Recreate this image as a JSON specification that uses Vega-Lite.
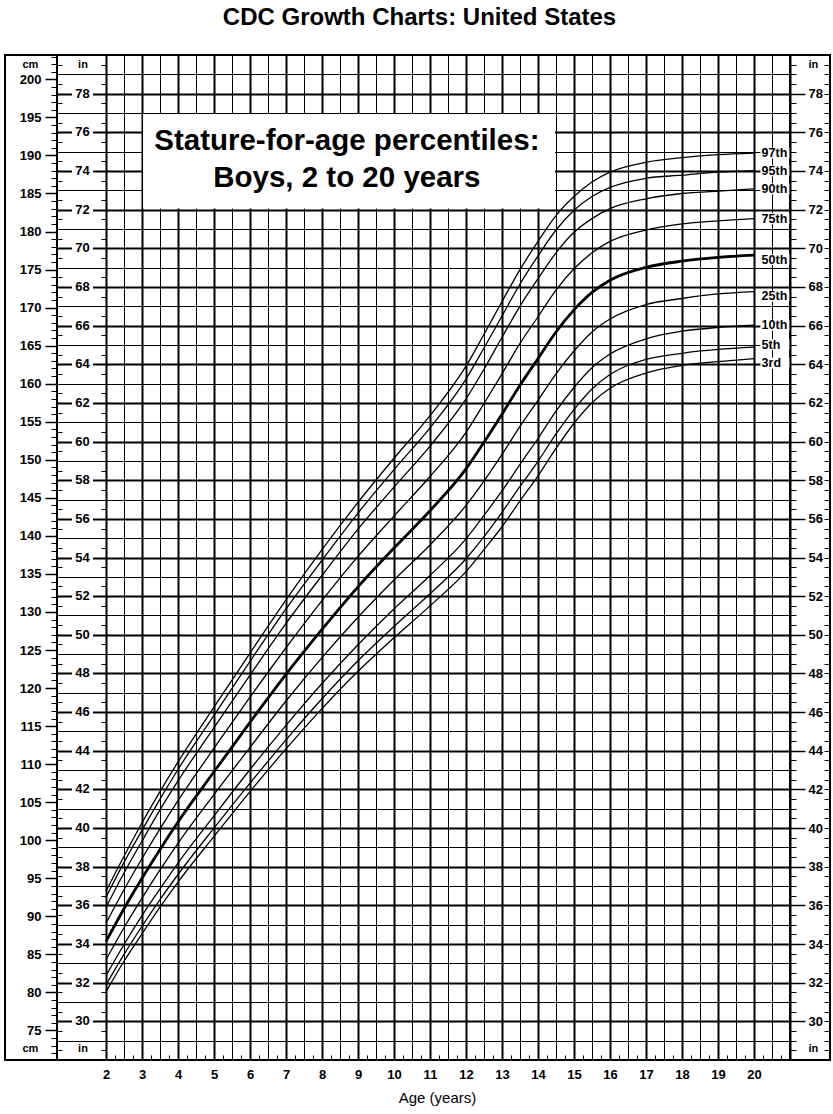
{
  "$schema": "https://vega.github.io/schema/vega-lite/v6.json",
  "autosize": {"type": "none"},
  "padding": {"left": 57, "top": 55, "right": 43, "bottom": 54},
  "width": 733,
  "height": 1005,
  "background": "white",
  "config": {
    "view": {"stroke": "#000", "strokeWidth": 2},
    "font": "Liberation Sans",
    "axis": {"labelFlush": false, "labelOverlap": false, "tickColor": "#000", "labelColor": "#000", "titleColor": "#000"}
  },
  "title": {"text": "CDC Growth Charts: United States", "font": "Liberation Sans", "fontSize": 24, "fontWeight": "bold", "color": "#000", "anchor": "middle", "frame": "group", "offset": 5, "baseline": "alphabetic", "dx": -4},
  "datasets": {
    "curves": [
      {"age": 2, "3rd": 80.1, "5th": 81.0, "10th": 82.2, "25th": 84.3, "50th": 86.7, "75th": 89.1, "90th": 91.2, "95th": 92.5, "97th": 93.3},
      {"age": 2.5, "3rd": 84.1, "5th": 85.0, "10th": 86.3, "25th": 88.5, "50th": 91.0, "75th": 93.5, "90th": 95.7, "95th": 97.1, "97th": 97.9},
      {"age": 3, "3rd": 87.7, "5th": 88.7, "10th": 90.1, "25th": 92.4, "50th": 95.0, "75th": 97.6, "90th": 99.9, "95th": 101.3, "97th": 102.3},
      {"age": 3.5, "3rd": 91.2, "5th": 92.2, "10th": 93.6, "25th": 96.1, "50th": 98.8, "75th": 101.5, "90th": 104.0, "95th": 105.4, "97th": 106.4},
      {"age": 4, "3rd": 94.5, "5th": 95.5, "10th": 97.0, "25th": 99.6, "50th": 102.4, "75th": 105.2, "90th": 107.8, "95th": 109.3, "97th": 110.3},
      {"age": 5, "3rd": 100.5, "5th": 101.6, "10th": 103.2, "25th": 106.0, "50th": 109.0, "75th": 112.1, "90th": 114.8, "95th": 116.4, "97th": 117.5},
      {"age": 6, "3rd": 106.4, "5th": 107.5, "10th": 109.3, "25th": 112.2, "50th": 115.5, "75th": 118.8, "90th": 121.7, "95th": 123.5, "97th": 124.6},
      {"age": 7, "3rd": 112.0, "5th": 113.2, "10th": 115.1, "25th": 118.3, "50th": 121.8, "75th": 125.3, "90th": 128.5, "95th": 130.4, "97th": 131.6},
      {"age": 8, "3rd": 117.3, "5th": 118.6, "10th": 120.6, "25th": 124.0, "50th": 127.7, "75th": 131.5, "90th": 134.8, "95th": 136.8, "97th": 138.2},
      {"age": 9, "3rd": 122.2, "5th": 123.6, "10th": 125.7, "25th": 129.3, "50th": 133.3, "75th": 137.3, "90th": 140.9, "95th": 143.0, "97th": 144.4},
      {"age": 10, "3rd": 126.6, "5th": 128.1, "10th": 130.4, "25th": 134.2, "50th": 138.4, "75th": 142.6, "90th": 146.4, "95th": 148.7, "97th": 150.2},
      {"age": 11, "3rd": 130.8, "5th": 132.4, "10th": 134.8, "25th": 138.8, "50th": 143.3, "75th": 147.8, "90th": 151.8, "95th": 154.2, "97th": 155.8},
      {"age": 12, "3rd": 135.3, "5th": 137.0, "10th": 139.6, "25th": 144.0, "50th": 148.8, "75th": 153.6, "90th": 158.0, "95th": 160.6, "97th": 162.3},
      {"age": 12.5, "3rd": 138.2, "5th": 139.9, "10th": 142.7, "25th": 147.2, "50th": 152.3, "75th": 157.4, "90th": 161.9, "95th": 164.7, "97th": 166.5},
      {"age": 13, "3rd": 141.2, "5th": 143.1, "10th": 145.9, "25th": 150.7, "50th": 156.0, "75th": 161.3, "90th": 166.1, "95th": 168.9, "97th": 170.8},
      {"age": 13.5, "3rd": 144.6, "5th": 146.5, "10th": 149.4, "25th": 154.4, "50th": 159.8, "75th": 165.3, "90th": 170.2, "95th": 173.1, "97th": 175.0},
      {"age": 14, "3rd": 147.9, "5th": 149.8, "10th": 152.8, "25th": 157.8, "50th": 163.3, "75th": 168.8, "90th": 173.8, "95th": 176.8, "97th": 178.7},
      {"age": 14.5, "3rd": 151.5, "5th": 153.4, "10th": 156.4, "25th": 161.3, "50th": 166.8, "75th": 172.3, "90th": 177.2, "95th": 180.2, "97th": 182.1},
      {"age": 15, "3rd": 154.8, "5th": 156.6, "10th": 159.5, "25th": 164.3, "50th": 169.7, "75th": 175.1, "90th": 179.9, "95th": 182.8, "97th": 184.6},
      {"age": 15.5, "3rd": 157.5, "5th": 159.3, "10th": 162.1, "25th": 166.8, "50th": 172.0, "75th": 177.2, "90th": 181.7, "95th": 184.6, "97th": 186.5},
      {"age": 16, "3rd": 159.4, "5th": 161.2, "10th": 163.9, "25th": 168.5, "50th": 173.6, "75th": 178.7, "90th": 183.0, "95th": 185.8, "97th": 187.8},
      {"age": 17, "3rd": 161.4, "5th": 163.2, "10th": 165.9, "25th": 170.4, "50th": 175.3, "75th": 180.2, "90th": 184.3, "95th": 187.0, "97th": 189.1},
      {"age": 18, "3rd": 162.4, "5th": 164.0, "10th": 166.9, "25th": 171.2, "50th": 176.1, "75th": 181.0, "90th": 185.0, "95th": 187.4, "97th": 189.7},
      {"age": 19, "3rd": 162.9, "5th": 164.5, "10th": 167.4, "25th": 171.8, "50th": 176.6, "75th": 181.4, "90th": 185.3, "95th": 187.8, "97th": 190.1},
      {"age": 20, "3rd": 163.3, "5th": 164.8, "10th": 167.7, "25th": 172.1, "50th": 176.9, "75th": 181.7, "90th": 185.6, "95th": 188.0, "97th": 190.3}
    ],
    "inlabels": [
      {"inch": 30, "cm": 76.2}, {"inch": 32, "cm": 81.28}, {"inch": 34, "cm": 86.36}, {"inch": 36, "cm": 91.44},
      {"inch": 38, "cm": 96.52}, {"inch": 40, "cm": 101.6}, {"inch": 42, "cm": 106.68}, {"inch": 44, "cm": 111.76},
      {"inch": 46, "cm": 116.84}, {"inch": 48, "cm": 121.92}, {"inch": 50, "cm": 127}, {"inch": 52, "cm": 132.08},
      {"inch": 54, "cm": 137.16}, {"inch": 56, "cm": 142.24}, {"inch": 58, "cm": 147.32}, {"inch": 60, "cm": 152.4},
      {"inch": 62, "cm": 157.48}, {"inch": 64, "cm": 162.56}, {"inch": 66, "cm": 167.64}, {"inch": 68, "cm": 172.72},
      {"inch": 70, "cm": 177.8}, {"inch": 72, "cm": 182.88}, {"inch": 74, "cm": 187.96}, {"inch": 76, "cm": 193.04},
      {"inch": 78, "cm": 198.12}
    ],
    "one": [{}]
  },
  "resolve": {"axis": {"x": "independent", "y": "independent"}},
  "layer": [
    {
      "data": {"name": "one"},
      "mark": {"type": "point", "opacity": 0},
      "encoding": {
        "x": {"datum": 2, "type": "quantitative", "scale": {"domain": [0.639, 21], "nice": false, "zero": false},
          "axis": {"orient": "bottom", "values": [2,2.5,3,3.5,4,4.5,5,5.5,6,6.5,7,7.5,8,8.5,9,9.5,10,10.5,11,11.5,12,12.5,13,13.5,14,14.5,15,15.5,16,16.5,17,17.5,18,18.5,19,19.5,20,20.5,21],
            "grid": true, "gridColor": "#000", "gridOpacity": 1, "gridWidth": {"condition": {"test": "datum.value % 1 === 0", "value": 2}, "value": 1},
            "labels": false, "ticks": false, "domain": false, "title": null}},
        "y": {"datum": 100, "type": "quantitative", "scale": {"domain": [71.12, 203.2], "nice": false, "zero": false},
          "axis": {"orient": "left", "values": [73.66,76.2,78.74,81.28,83.82,86.36,88.9,91.44,93.98,96.52,99.06,101.6,104.14,106.68,109.22,111.76,114.3,116.84,119.38,121.92,124.46,127,129.54,132.08,134.62,137.16,139.7,142.24,144.78,147.32,149.86,152.4,154.94,157.48,160.02,162.56,165.1,167.64,170.18,172.72,175.26,177.8,180.34,182.88,185.42,187.96,190.5,193.04,195.58,198.12,200.66],
            "grid": true, "gridColor": "#000", "gridOpacity": 1, "gridWidth": {"condition": {"test": "round(datum.value/2.54) % 2 === 0", "value": 2}, "value": 1},
            "labels": false, "ticks": false, "domain": false, "title": null}}
      }
    },
    {
      "data": {"name": "one"},
      "mark": {"type": "point", "opacity": 0},
      "encoding": {
        "x": {"datum": 2, "type": "quantitative", "scale": {"domain": [0.639, 21], "nice": false, "zero": false},
          "axis": {"orient": "bottom", "values": [2,3,4,5,6,7,8,9,10,11,12,13,14,15,16,17,18,19,20], "ticks": false, "tickSize": 0, "domain": false, "grid": false,
            "labelPadding": 8, "labelFont": "Liberation Sans", "labelFontSize": 13, "labelFontWeight": "bold",
            "title": "Age (years)", "titleFont": "Liberation Sans", "titleFontSize": 15, "titleFontWeight": "normal", "titlePadding": 9, "titleX": 380}},
        "y": {"datum": 100, "type": "quantitative", "scale": {"domain": [71.12, 203.2], "nice": false, "zero": false},
          "axis": {"orient": "left", "values": [72,73,74,75,76,77,78,79,80,81,82,83,84,85,86,87,88,89,90,91,92,93,94,95,96,97,98,99,100,101,102,103,104,105,106,107,108,109,110,111,112,113,114,115,116,117,118,119,120,121,122,123,124,125,126,127,128,129,130,131,132,133,134,135,136,137,138,139,140,141,142,143,144,145,146,147,148,149,150,151,152,153,154,155,156,157,158,159,160,161,162,163,164,165,166,167,168,169,170,171,172,173,174,175,176,177,178,179,180,181,182,183,184,185,186,187,188,189,190,191,192,193,194,195,196,197,198,199,200,201,202,203],
            "labels": false, "ticks": true, "tickSize": 6, "tickWidth": 1, "domain": false, "grid": false, "title": null}}
      }
    },
    {
      "data": {"name": "one"},
      "mark": {"type": "point", "opacity": 0},
      "encoding": {
        "x": {"datum": 2, "type": "quantitative", "scale": {"domain": [0.639, 21], "nice": false, "zero": false},
          "axis": {"orient": "top", "offset": -1005, "values": [2.25,2.75,3.25,3.75,4.25,4.75,5.25,5.75,6.25,6.75,7.25,7.75,8.25,8.75,9.25,9.75,10.25,10.75,11.25,11.75,12.25,12.75,13.25,13.75,14.25,14.75,15.25,15.75,16.25,16.75,17.25,17.75,18.25,18.75,19.25,19.75,20.25,20.75],
            "labels": false, "ticks": true, "tickSize": 5, "tickWidth": 1, "domain": false, "grid": false, "title": null}},
        "y": {"datum": 100, "type": "quantitative", "scale": {"domain": [71.12, 203.2], "nice": false, "zero": false},
          "axis": {"orient": "left", "values": [75,80,85,90,95,100,105,110,115,120,125,130,135,140,145,150,155,160,165,170,175,180,185,190,195,200],
            "ticks": true, "tickSize": 12, "tickWidth": 1.5, "labelPadding": 4, "labelFont": "Liberation Sans", "labelFontSize": 13, "labelFontWeight": "bold",
            "domain": false, "grid": false, "title": null}}
      }
    },
    {
      "data": {"name": "one"},
      "mark": {"type": "point", "opacity": 0},
      "encoding": {
        "x": {"datum": 2, "type": "quantitative", "axis": null},
        "y": {"datum": 100, "type": "quantitative",
          "axis": {"orient": "right", "offset": -733, "values": [72.39,73.66,74.93,76.2,77.47,78.74,80.01,81.28,82.55,83.82,85.09,86.36,87.63,88.9,90.17,91.44,92.71,93.98,95.25,96.52,97.79,99.06,100.33,101.6,102.87,104.14,105.41,106.68,107.95,109.22,110.49,111.76,113.03,114.3,115.57,116.84,118.11,119.38,120.65,121.92,123.19,124.46,125.73,127,128.27,129.54,130.81,132.08,133.35,134.62,135.89,137.16,138.43,139.7,140.97,142.24,143.51,144.78,146.05,147.32,148.59,149.86,151.13,152.4,153.67,154.94,156.21,157.48,158.75,160.02,161.29,162.56,163.83,165.1,166.37,167.64,168.91,170.18,171.45,172.72,173.99,175.26,176.53,177.8,179.07,180.34,181.61,182.88,184.15,185.42,186.69,187.96,189.23,190.5,191.77,193.04,194.31,195.58,196.85,198.12,199.39,200.66,201.93],
            "labels": false, "ticks": true, "tickSize": 5, "tickWidth": 1, "domain": false, "grid": false, "title": null}}
      }
    },
    {
      "data": {"name": "one"},
      "mark": {"type": "point", "opacity": 0},
      "encoding": {
        "x": {"datum": 2, "type": "quantitative", "axis": null},
        "y": {"datum": 100, "type": "quantitative",
          "axis": {"orient": "left", "offset": -49, "values": [72.39,73.66,74.93,76.2,77.47,78.74,80.01,81.28,82.55,83.82,85.09,86.36,87.63,88.9,90.17,91.44,92.71,93.98,95.25,96.52,97.79,99.06,100.33,101.6,102.87,104.14,105.41,106.68,107.95,109.22,110.49,111.76,113.03,114.3,115.57,116.84,118.11,119.38,120.65,121.92,123.19,124.46,125.73,127,128.27,129.54,130.81,132.08,133.35,134.62,135.89,137.16,138.43,139.7,140.97,142.24,143.51,144.78,146.05,147.32,148.59,149.86,151.13,152.4,153.67,154.94,156.21,157.48,158.75,160.02,161.29,162.56,163.83,165.1,166.37,167.64,168.91,170.18,171.45,172.72,173.99,175.26,176.53,177.8,179.07,180.34,181.61,182.88,184.15,185.42,186.69,187.96,189.23,190.5,191.77,193.04,194.31,195.58,196.85,198.12,199.39,200.66,201.93],
            "labels": false, "ticks": true, "tickSize": 5, "tickWidth": 1, "domain": false, "grid": false, "title": null}}
      }
    },
    {
      "data": {"name": "one"},
      "mark": {"type": "point", "opacity": 0},
      "encoding": {
        "x": {"datum": 2, "type": "quantitative", "axis": null},
        "y": {"datum": 100, "type": "quantitative",
          "axis": {"orient": "right", "offset": 0, "values": [72.39,73.66,74.93,76.2,77.47,78.74,80.01,81.28,82.55,83.82,85.09,86.36,87.63,88.9,90.17,91.44,92.71,93.98,95.25,96.52,97.79,99.06,100.33,101.6,102.87,104.14,105.41,106.68,107.95,109.22,110.49,111.76,113.03,114.3,115.57,116.84,118.11,119.38,120.65,121.92,123.19,124.46,125.73,127,128.27,129.54,130.81,132.08,133.35,134.62,135.89,137.16,138.43,139.7,140.97,142.24,143.51,144.78,146.05,147.32,148.59,149.86,151.13,152.4,153.67,154.94,156.21,157.48,158.75,160.02,161.29,162.56,163.83,165.1,166.37,167.64,168.91,170.18,171.45,172.72,173.99,175.26,176.53,177.8,179.07,180.34,181.61,182.88,184.15,185.42,186.69,187.96,189.23,190.5,191.77,193.04,194.31,195.58,196.85,198.12,199.39,200.66,201.93],
            "labels": false, "ticks": true, "tickSize": 6, "tickWidth": 1, "domain": false, "grid": false, "title": null}}
      }
    },
    {
      "data": {"name": "one"},
      "mark": {"type": "point", "opacity": 0},
      "encoding": {
        "x": {"datum": 2, "type": "quantitative", "axis": null},
        "y": {"datum": 100, "type": "quantitative",
          "axis": {"orient": "left", "offset": -773, "values": [72.39,73.66,74.93,76.2,77.47,78.74,80.01,81.28,82.55,83.82,85.09,86.36,87.63,88.9,90.17,91.44,92.71,93.98,95.25,96.52,97.79,99.06,100.33,101.6,102.87,104.14,105.41,106.68,107.95,109.22,110.49,111.76,113.03,114.3,115.57,116.84,118.11,119.38,120.65,121.92,123.19,124.46,125.73,127,128.27,129.54,130.81,132.08,133.35,134.62,135.89,137.16,138.43,139.7,140.97,142.24,143.51,144.78,146.05,147.32,148.59,149.86,151.13,152.4,153.67,154.94,156.21,157.48,158.75,160.02,161.29,162.56,163.83,165.1,166.37,167.64,168.91,170.18,171.45,172.72,173.99,175.26,176.53,177.8,179.07,180.34,181.61,182.88,184.15,185.42,186.69,187.96,189.23,190.5,191.77,193.04,194.31,195.58,196.85,198.12,199.39,200.66,201.93],
            "labels": false, "ticks": true, "tickSize": 6, "tickWidth": 1, "domain": false, "grid": false, "title": null}}
      }
    },
    {
      "data": {"name": "one"},
      "mark": {"type": "point", "opacity": 0},
      "encoding": {
        "x": {"datum": 2, "type": "quantitative", "axis": null},
        "y": {"datum": 100, "type": "quantitative",
          "axis": {"orient": "right", "offset": 0, "values": [76.2,81.28,86.36,91.44,96.52,101.6,106.68,111.76,116.84,121.92,127,132.08,137.16,142.24,147.32,152.4,157.48,162.56,167.64,172.72,177.8,182.88,187.96,193.04,198.12],
            "labelExpr": "round(datum.value/2.54)", "ticks": true, "tickSize": 15, "tickWidth": 1.5, "labelPadding": 3,
            "labelFont": "Liberation Sans", "labelFontSize": 13, "labelFontWeight": "bold",
            "domain": false, "grid": false, "title": null}}
      }
    },
    {
      "data": {"name": "one"},
      "mark": {"type": "rect", "filled": false, "stroke": "#000", "strokeWidth": 2},
      "encoding": {
        "x": {"datum": -0.805, "type": "quantitative", "axis": null},
        "x2": {"datum": 22.111},
        "y": {"datum": 71.12, "type": "quantitative", "axis": null},
        "y2": {"datum": 203.2}
      }
    },
    {
      "data": {"name": "one"},
      "mark": {"type": "rect", "fill": "white", "strokeWidth": 0},
      "encoding": {
        "x": {"datum": 3.03, "type": "quantitative", "axis": null},
        "x2": {"datum": 14.47},
        "y": {"datum": 183.02, "type": "quantitative", "axis": null},
        "y2": {"datum": 195.45}
      }
    },
    {
      "data": {"name": "one"},
      "mark": {"type": "text", "text": "Stature-for-age percentiles:", "font": "Liberation Sans", "fontSize": 29.5, "fontWeight": "bold", "color": "#000", "align": "center", "baseline": "middle"},
      "encoding": {
        "x": {"datum": 8.69, "type": "quantitative", "axis": null},
        "y": {"datum": 191.9, "type": "quantitative", "axis": null}
      }
    },
    {
      "data": {"name": "one"},
      "mark": {"type": "text", "text": "Boys, 2 to 20 years", "font": "Liberation Sans", "fontSize": 29.5, "fontWeight": "bold", "color": "#000", "align": "center", "baseline": "middle"},
      "encoding": {
        "x": {"datum": 8.69, "type": "quantitative", "axis": null},
        "y": {"datum": 187.1, "type": "quantitative", "axis": null}
      }
    },
    {
      "data": {"name": "inlabels"},
      "mark": {"type": "tick", "orient": "horizontal", "color": "white", "opacity": 1, "size": 21, "thickness": 12},
      "encoding": {
        "x": {"datum": 1.347, "type": "quantitative", "axis": null},
        "y": {"field": "cm", "type": "quantitative", "axis": null}
      }
    },
    {
      "data": {"name": "inlabels"},
      "mark": {"type": "text", "font": "Liberation Sans", "fontSize": 13, "fontWeight": "bold", "color": "#000", "align": "center", "baseline": "middle"},
      "encoding": {
        "x": {"datum": 1.347, "type": "quantitative", "axis": null},
        "y": {"field": "cm", "type": "quantitative", "axis": null},
        "text": {"field": "inch"}
      }
    },
    {
      "data": {"name": "curves"},
      "transform": [{"fold": ["3rd", "5th", "10th", "25th", "50th", "75th", "90th", "95th", "97th"], "as": ["pct", "cm"]}],
      "mark": {"type": "line", "interpolate": "monotone", "color": "#000"},
      "encoding": {
        "x": {"field": "age", "type": "quantitative", "axis": null},
        "y": {"field": "cm", "type": "quantitative", "axis": null},
        "detail": {"field": "pct"},
        "strokeWidth": {"condition": {"test": "datum.pct === '50th'", "value": 2.8}, "value": 1.3}
      }
    },
    {
      "data": {"name": "curves"},
      "transform": [{"fold": ["3rd", "5th", "10th", "25th", "50th", "75th", "90th", "95th", "97th"], "as": ["pct", "cm"]}, {"filter": "datum.age === 20 && (datum.pct === '97th' || datum.pct === '95th' || datum.pct === '90th' || datum.pct === '75th' || datum.pct === '10th')"}],
      "mark": {"type": "tick", "orient": "horizontal", "color": "white", "opacity": 1, "size": 29, "thickness": 11, "yOffset": 0},
      "encoding": {
        "x": {"datum": 20.58, "type": "quantitative", "axis": null},
        "y": {"field": "cm", "type": "quantitative", "axis": null}
      }
    },
    {
      "data": {"name": "curves"},
      "transform": [{"fold": ["3rd", "5th", "10th", "25th", "50th", "75th", "90th", "95th", "97th"], "as": ["pct", "cm"]}, {"filter": "datum.age === 20 && (datum.pct === '50th' || datum.pct === '25th' || datum.pct === '3rd')"}],
      "mark": {"type": "tick", "orient": "horizontal", "color": "white", "opacity": 1, "size": 29, "thickness": 11, "yOffset": 4.5},
      "encoding": {
        "x": {"datum": 20.58, "type": "quantitative", "axis": null},
        "y": {"field": "cm", "type": "quantitative", "axis": null}
      }
    },
    {
      "data": {"name": "curves"},
      "transform": [{"fold": ["3rd", "5th", "10th", "25th", "50th", "75th", "90th", "95th", "97th"], "as": ["pct", "cm"]}, {"filter": "datum.age === 20 && datum.pct === '5th'"}],
      "mark": {"type": "tick", "orient": "horizontal", "color": "white", "opacity": 1, "size": 29, "thickness": 11, "yOffset": -2.5},
      "encoding": {
        "x": {"datum": 20.58, "type": "quantitative", "axis": null},
        "y": {"field": "cm", "type": "quantitative", "axis": null}
      }
    },
    {
      "data": {"name": "curves"},
      "transform": [{"fold": ["3rd", "5th", "10th", "25th", "50th", "75th", "90th", "95th", "97th"], "as": ["pct", "cm"]}, {"filter": "datum.age === 20 && (datum.pct === '97th' || datum.pct === '95th' || datum.pct === '90th' || datum.pct === '75th' || datum.pct === '10th')"}],
      "mark": {"type": "text", "font": "Liberation Sans", "fontSize": 12.5, "fontWeight": "bold", "color": "#000", "align": "left", "baseline": "middle", "dy": 0},
      "encoding": {
        "x": {"datum": 20.21, "type": "quantitative", "axis": null},
        "y": {"field": "cm", "type": "quantitative", "axis": null},
        "text": {"field": "pct"}
      }
    },
    {
      "data": {"name": "curves"},
      "transform": [{"fold": ["3rd", "5th", "10th", "25th", "50th", "75th", "90th", "95th", "97th"], "as": ["pct", "cm"]}, {"filter": "datum.age === 20 && (datum.pct === '50th' || datum.pct === '25th' || datum.pct === '3rd')"}],
      "mark": {"type": "text", "font": "Liberation Sans", "fontSize": 12.5, "fontWeight": "bold", "color": "#000", "align": "left", "baseline": "middle", "dy": 4.5},
      "encoding": {
        "x": {"datum": 20.21, "type": "quantitative", "axis": null},
        "y": {"field": "cm", "type": "quantitative", "axis": null},
        "text": {"field": "pct"}
      }
    },
    {
      "data": {"name": "curves"},
      "transform": [{"fold": ["3rd", "5th", "10th", "25th", "50th", "75th", "90th", "95th", "97th"], "as": ["pct", "cm"]}, {"filter": "datum.age === 20 && datum.pct === '5th'"}],
      "mark": {"type": "text", "font": "Liberation Sans", "fontSize": 12.5, "fontWeight": "bold", "color": "#000", "align": "left", "baseline": "middle", "dy": -2.5},
      "encoding": {
        "x": {"datum": 20.21, "type": "quantitative", "axis": null},
        "y": {"field": "cm", "type": "quantitative", "axis": null},
        "text": {"field": "pct"}
      }
    },
    {
      "data": {"name": "one"},
      "mark": {"type": "text", "text": "cm", "font": "Liberation Sans", "fontSize": 11, "fontWeight": "bold", "color": "#000", "align": "center", "baseline": "middle"},
      "encoding": {"x": {"datum": -0.1, "type": "quantitative", "axis": null}, "y": {"datum": 201.9, "type": "quantitative", "axis": null}}
    },
    {
      "data": {"name": "one"},
      "mark": {"type": "text", "text": "cm", "font": "Liberation Sans", "fontSize": 11, "fontWeight": "bold", "color": "#000", "align": "center", "baseline": "middle"},
      "encoding": {"x": {"datum": -0.1, "type": "quantitative", "axis": null}, "y": {"datum": 72.57, "type": "quantitative", "axis": null}}
    },
    {
      "data": {"name": "one"},
      "mark": {"type": "text", "text": "in", "font": "Liberation Sans", "fontSize": 11, "fontWeight": "bold", "color": "#000", "align": "center", "baseline": "middle"},
      "encoding": {"x": {"datum": 1.361, "type": "quantitative", "axis": null}, "y": {"datum": 201.9, "type": "quantitative", "axis": null}}
    },
    {
      "data": {"name": "one"},
      "mark": {"type": "text", "text": "in", "font": "Liberation Sans", "fontSize": 11, "fontWeight": "bold", "color": "#000", "align": "center", "baseline": "middle"},
      "encoding": {"x": {"datum": 1.361, "type": "quantitative", "axis": null}, "y": {"datum": 72.57, "type": "quantitative", "axis": null}}
    },
    {
      "data": {"name": "one"},
      "mark": {"type": "text", "text": "in", "font": "Liberation Sans", "fontSize": 11, "fontWeight": "bold", "color": "#000", "align": "center", "baseline": "middle"},
      "encoding": {"x": {"datum": 21.65, "type": "quantitative", "axis": null}, "y": {"datum": 201.9, "type": "quantitative", "axis": null}}
    },
    {
      "data": {"name": "one"},
      "mark": {"type": "text", "text": "in", "font": "Liberation Sans", "fontSize": 11, "fontWeight": "bold", "color": "#000", "align": "center", "baseline": "middle"},
      "encoding": {"x": {"datum": 21.65, "type": "quantitative", "axis": null}, "y": {"datum": 72.57, "type": "quantitative", "axis": null}}
    }
  ]
}
